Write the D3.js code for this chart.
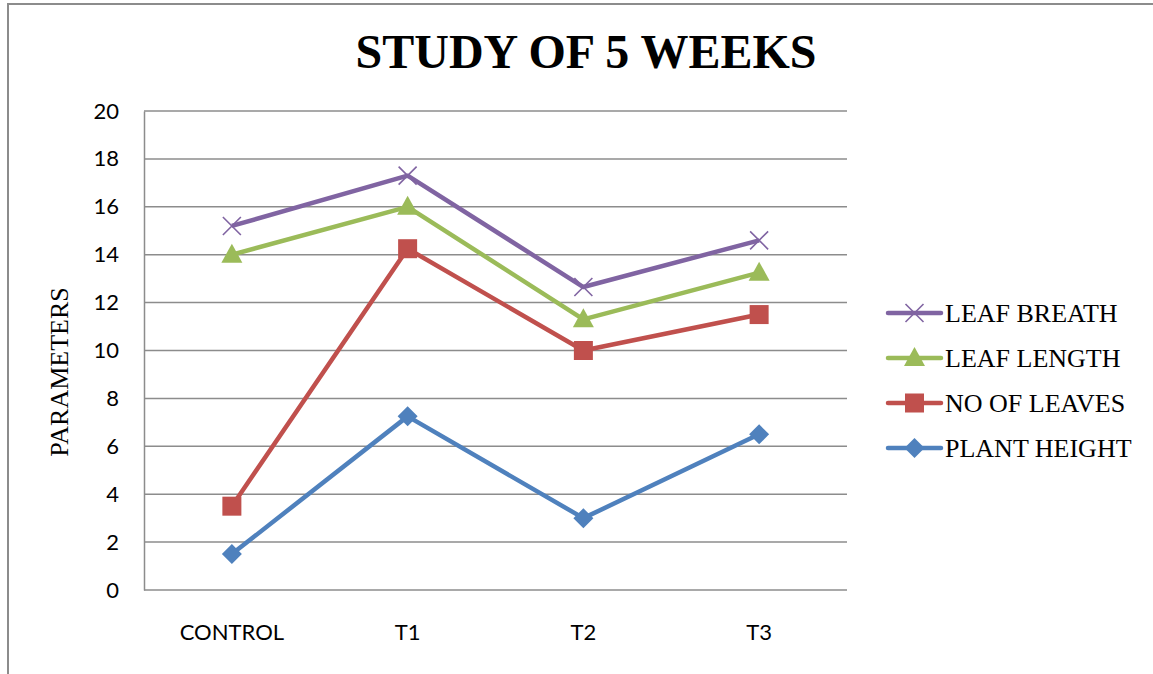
<!DOCTYPE html>
<html>
<head>
<meta charset="utf-8">
<script src="https://cdn.jsdelivr.net/npm/d3@7"></script>
<style>
  body { margin: 0; background: #fff; }
  svg { display: block; }
</style>
</head>
<body>
<div class="chart-container"></div>
<script>
var categories = ['CONTROL', 'T1', 'T2', 'T3'];
var yTicks = [0, 2, 4, 6, 8, 10, 12, 14, 16, 18, 20];

var plantHeight = [1.5, 7.25, 3, 6.5];
var noOfLeaves = [3.5, 14.25, 10, 11.5];
var leafLength = [14, 16, 11.3, 13.25];
var leafBreath = [15.2, 17.3, 12.65, 14.6];

var seriesNames = ['PLANT HEIGHT', 'NO OF LEAVES', 'LEAF LENGTH', 'LEAF BREATH'];
var seriesValues = [plantHeight, noOfLeaves, leafLength, leafBreath];

var colors = ['#4F81BD', '#C0504D', '#9BBB59', '#8064A2'];
var markers = ['diamond', 'square', 'triangle', 'cross'];

var W = 1153, H = 674;
var margin = {top: 111, left: 144, right: 306, bottom: 84};

var svg = d3.select('.chart-container').append('svg')
  .attr('width', W)
  .attr('height', H);

// outer frame
svg.append('path')
  .attr('d', `M8,${H + 5}V4H${W + 5}`)
  .attr('fill', 'none')
  .attr('stroke', '#8c8c8c')
  .attr('stroke-width', 2);

var x = d3.scaleBand()
  .domain(categories)
  .range([margin.left, W - margin.right]);

var y = d3.scaleLinear()
  .domain([0, 20])
  .range([H - margin.bottom, margin.top]);

// grid
svg.append('g').selectAll('line')
  .data(yTicks)
  .enter().append('line')
    .attr('x1', margin.left)
    .attr('x2', W - margin.right)
    .attr('y1', d => y(d))
    .attr('y2', d => y(d))
    .attr('stroke', '#8c8c8c')
    .attr('stroke-width', 1.5);

var yAxis = d3.axisLeft(y).tickValues(yTicks).tickSize(0).tickPadding(25);
var gY = svg.append('g')
  .attr('transform', `translate(${margin.left},0)`)
  .call(yAxis);
gY.select('.domain').attr('stroke', '#8c8c8c').attr('stroke-width', 1.5);
gY.selectAll('text')
  .attr('font-family', 'Lato, "Open Sans", sans-serif')
  .attr('font-size', 22)
  .attr('fill', '#000');

var xAxis = d3.axisBottom(x).tickSize(0).tickPadding(34);
var gX = svg.append('g')
  .attr('transform', `translate(0,${H - margin.bottom})`)
  .call(xAxis);
gX.select('.domain').remove();
gX.selectAll('text')
  .attr('font-family', 'Lato, "Open Sans", sans-serif')
  .attr('font-size', 22)
  .attr('fill', '#000');

// title
svg.append('text')
  .attr('x', 586)
  .attr('y', 68)
  .attr('text-anchor', 'middle')
  .attr('font-family', '"Liberation Serif", "Times New Roman", serif')
  .attr('font-weight', 'bold')
  .attr('font-size', 48)
  .text('STUDY OF 5 WEEKS');

svg.append('text')
  .attr('transform', 'translate(68,372) rotate(-90)')
  .attr('text-anchor', 'middle')
  .attr('font-family', '"Liberation Serif", "Times New Roman", serif')
  .attr('font-size', 26)
  .text('PARAMETERS');

function drawMarker(g, type, color, cx, cy) {
  if (type === 'diamond') {
    g.append('path')
      .attr('d', `M${cx},${cy - 10}L${cx + 10},${cy}L${cx},${cy + 10}L${cx - 10},${cy}Z`)
      .attr('fill', color);
  } else if (type === 'square') {
    g.append('rect')
      .attr('x', cx - 9.5).attr('y', cy - 9.5)
      .attr('width', 19).attr('height', 19)
      .attr('fill', color);
  } else if (type === 'triangle') {
    g.append('path')
      .attr('d', `M${cx},${cy - 11}L${cx + 10.5},${cy + 8}L${cx - 10.5},${cy + 8}Z`)
      .attr('fill', color);
  } else {
    g.append('path')
      .attr('d', `M${cx - 9},${cy - 9}L${cx + 9},${cy + 9}M${cx + 9},${cy - 9}L${cx - 9},${cy + 9}`)
      .attr('stroke', color)
      .attr('stroke-width', 1.6);
  }
}

var line = d3.line()
  .x((d, i) => x(categories[i]) + x.bandwidth() / 2)
  .y(d => y(d));

seriesValues.forEach(function(vals, s) {
  var g = svg.append('g');
  g.append('path')
    .datum(vals)
    .attr('d', line)
    .attr('fill', 'none')
    .attr('stroke', colors[s])
    .attr('stroke-width', 4.5)
    .attr('stroke-linejoin', 'round');
  vals.forEach(function(v, i) {
    drawMarker(g, markers[s], colors[s], x(categories[i]) + x.bandwidth() / 2, y(v));
  });
});

// legend, top item is the last series
var legend = svg.append('g');
seriesNames.slice().reverse().forEach(function(name, k) {
  var s = seriesNames.length - 1 - k;
  var ly = 313 + k * 45;
  legend.append('line')
    .attr('x1', 888).attr('x2', 941)
    .attr('y1', ly).attr('y2', ly)
    .attr('stroke', colors[s])
    .attr('stroke-width', 4.5)
    .attr('stroke-linecap', 'round');
  drawMarker(legend, markers[s], colors[s], 914.5, ly);
  legend.append('text')
    .attr('x', 945)
    .attr('y', ly + 9)
    .attr('font-family', '"Liberation Serif", "Times New Roman", serif')
    .attr('font-size', 26)
    .text(name);
});
</script>
</body>
</html>
